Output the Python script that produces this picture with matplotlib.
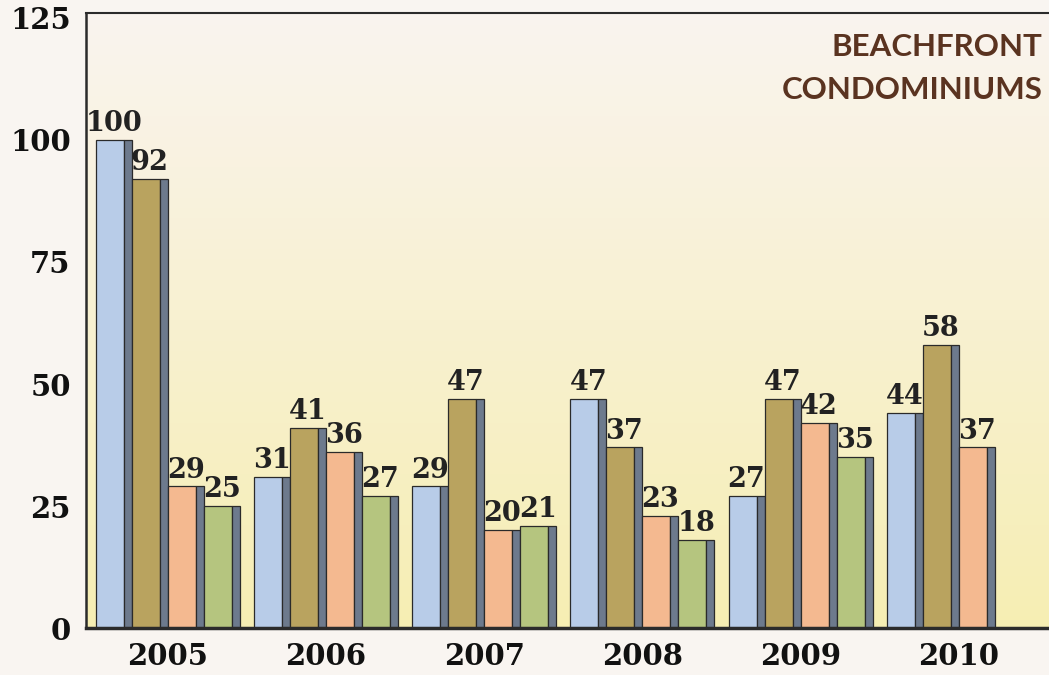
import numpy as np
import matplotlib.pyplot as plt
from matplotlib.colors import to_rgb

# Data
years = ["2005", "2006", "2007", "2008", "2009", "2010"]
series_a = [100, 31, 29, 47, 27, 44]
series_b = [92, 41, 47, 37, 47, 58]
series_c = [29, 36, 20, 23, 42, 37]
series_d = [25, 27, 21, 18, 35, None]
yticks = [0, 25, 50, 75, 100, 125]

colors = ["#b8cce8", "#b9a35f", "#f4b990", "#b5c57f"]
side_color = "#6d7a8d"
label_font = ["DejaVu Serif"]

fig = plt.figure(figsize=(10.49, 6.75), dpi=100)
fig.patch.set_facecolor("#f9f5f1")
ax = fig.add_axes([0.082, 0.0696, 0.918, 0.911])

# Background gradient
top = np.array(to_rgb("#faf4ef"))
bottom = np.array(to_rgb("#f6eeb3"))
t = np.linspace(0, 1, 256)[:, None]
grad = (top * (1 - t) + bottom * t)[:, None, :]
ax.imshow(grad, extent=[0, 1, 0, 1], transform=ax.transAxes, aspect="auto", zorder=0)

pitch = 0.2276
front = 0.177
side = pitch - front
x = np.arange(len(years))

for k, vals in enumerate([series_a, series_b, series_c, series_d]):
    for i, v in enumerate(vals):
        if v is None:
            continue
        left = x[i] - 2 * pitch + k * pitch
        ax.bar(left, v, width=front, align="edge", color=colors[k],
               edgecolor="#2a2a2a", linewidth=0.9, zorder=2)
        ax.bar(left + front, v, width=side, align="edge", color=side_color,
               edgecolor="#2a2a2a", linewidth=0.9, zorder=2)
        ax.text(left + pitch / 2, v + 0.6, str(v), ha="center", va="bottom",
                fontsize=19.5, fontweight="bold", family=label_font, color="#222222", zorder=3)

ax.set_xlim(-0.516, 5.57)
ax.set_ylim(0, 126)
ax.set_yticks(yticks)
ax.set_xticks(x)
ax.set_xticklabels(years)
ax.tick_params(length=0)
for lab in ax.get_xticklabels() + ax.get_yticklabels():
    lab.set_fontsize(21)
    lab.set_fontweight("bold")
    lab.set_family(label_font)
    lab.set_color("#111111")
ax.tick_params(axis="y", pad=11)
ax.tick_params(axis="x", pad=10)

ax.spines["right"].set_visible(False)
ax.spines["left"].set_linewidth(1.8)
ax.spines["top"].set_linewidth(1.5)
ax.spines["bottom"].set_linewidth(2.5)
for s in ax.spines.values():
    s.set_color("#2b2b2b")

ax.text(0.993, 0.967, "BEACHFRONT\nCONDOMINIUMS", transform=ax.transAxes,
        ha="right", va="top", fontsize=22.5, fontweight="bold", family=["Lato"],
        color="#5a3320", linespacing=1.65)

fig.savefig("out.png", dpi=100, facecolor=fig.get_facecolor())
